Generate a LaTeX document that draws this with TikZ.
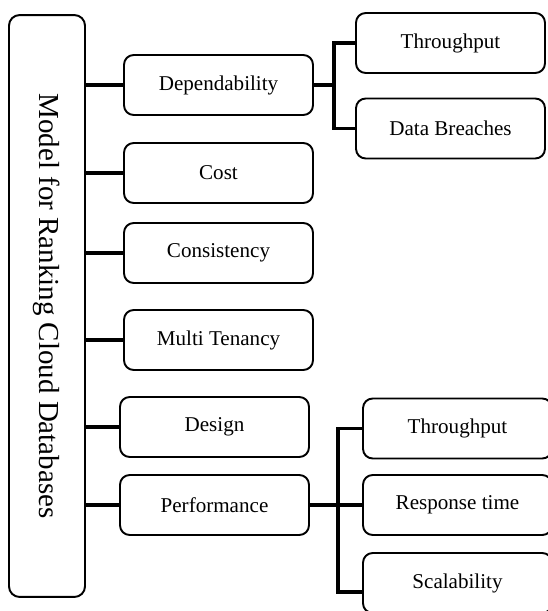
\documentclass[tikz,border=0pt]{standalone}
\usepackage{fontspec}
\setmainfont{Liberation Serif}
\usetikzlibrary{positioning}
\tikzset{
box/.style = {draw, rounded corners=5.5pt, line width=1.1pt,
              minimum width=3.78cm, minimum height=1.2cm, inner sep=2pt},
mainbox/.style = {draw, rounded corners=6pt, line width=1.1pt,
              minimum width=1.52cm, minimum height=11.64cm, inner sep=0pt},
link/.style = {line width=1.8pt}
}

\begin{document}
\begin{tikzpicture}[x=0.02cm, y=-0.02cm, font=\fontsize{12}{14}\selectfont]
        \useasboundingbox (0,0) rectangle (547,611);

        % root
        \node[mainbox] (model) at (47,306) {};
        \node[rotate=-90, font=\fontsize{16.5}{20}\selectfont] (title) at (model.center) {Model for Ranking Cloud Databases};

        % first level
        \node[box] (dep)   at (218.5,85)  {Dependability};
        \node[box] (cost)  at (218.5,173) {Cost};
        \node[box] (cons)  at (218.5,253) {Consistency};
        \node[box] (multi) at (218.5,340) {Multi Tenancy};
        \node[box] (des)   at (214.5,427) {Design};
        \node[box] (perf)  at (214.5,505) {Performance};

        % second level
        \node[box] (thr1) at (450.5,43)  {Throughput};
        \node[box] (brch) at (450.5,128.5) {Data Breaches};
        \node[box] (thr2) at (457.5,428.5) {Throughput};
        \node[box] (resp) at (457.5,505) {Response time};
        \node[box] (scal) at (457.5,583) {Scalability};

        \coordinate (fk1) at (334,0);
        \coordinate (fk2) at (338,592);

        \path[link]
        (model.east |- dep)   edge (dep)
        (model.east |- cost)  edge (cost)
        (model.east |- cons)  edge (cons)
        (model.east |- multi) edge (multi)
        (model.east |- des)   edge (des)
        (model.east |- perf)  edge (perf);

        \draw[link] (dep.east) -- (fk1 |- dep.east);
        \draw[link] (thr1.west) -| (fk1 |- brch.west) -- (brch.west);
        \draw[link] (perf.east) -- (perf.east -| resp.west);
        \draw[link] (thr2.west) -| (fk2) -- (fk2 -| scal.west);
\end{tikzpicture}
\end{document}
